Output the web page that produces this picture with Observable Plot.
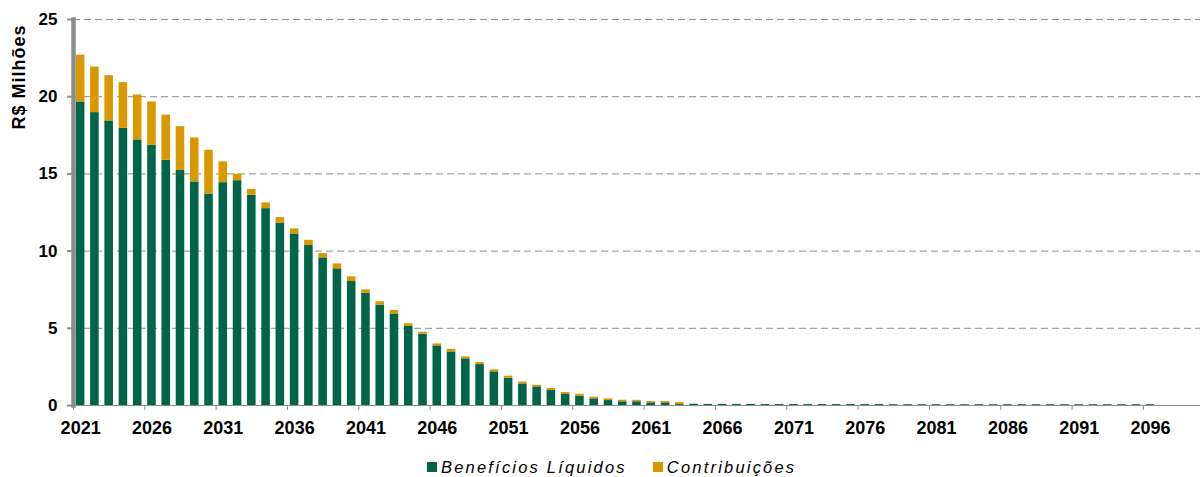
<!DOCTYPE html>
<html><head><meta charset="utf-8">
<script src="https://cdn.jsdelivr.net/npm/d3@7"></script>
<script src="https://cdn.jsdelivr.net/npm/@observablehq/plot@0.6"></script>
<style>
body{margin:0;background:#fff;font-family:"Liberation Sans",Arial,sans-serif;}
#wrap{position:relative;width:1202px;height:477px;overflow:hidden;}
#legend{position:absolute;left:427px;top:458px;display:flex;align-items:center;font-style:italic;font-size:16.5px;letter-spacing:2.2px;line-height:18px;color:#000;white-space:nowrap;}
.item{display:flex;align-items:center;}
.item + .item{margin-left:26px;}
.sw{display:inline-block;width:10px;height:10px;margin-right:4px;}
</style></head><body><div id="wrap"><div id="chart"></div><div id="legend"></div></div>
<script>
// categories
const years = d3.range(2021, 2100);
const xLabelYears = [2021, 2026, 2031, 2036, 2041, 2046, 2051, 2056, 2061, 2066, 2071, 2076, 2081, 2086, 2091, 2096];
const yTicks = [0, 5, 10, 15, 20, 25];
const seriesNames = ["Benefícios Líquidos", "Contribuições"];
const seriesColors = ["#006548", "#D99800"];

// values (R$ milhões), 2021..2099
const beneficios = [
  19.66, 18.97, 18.43, 17.95, 17.20, 16.85, 15.88, 15.22, 14.48, 13.70,
  14.43, 14.56, 13.62, 12.75, 11.80, 11.11, 10.36, 9.56, 8.85, 8.03,
  7.27, 6.50, 5.93, 5.13, 4.62, 3.86, 3.47, 3.02, 2.65, 2.18,
  1.77, 1.40, 1.21, 0.97, 0.71, 0.60, 0.43, 0.32, 0.24, 0.24,
  0.17, 0.17, 0.06, 0.08, 0.07, 0.07, 0.07, 0.07, 0.06, 0.06,
  0.06, 0.06, 0.06, 0.06, 0.06, 0.06, 0.06, 0.05, 0.05, 0.05,
  0.05, 0.05, 0.05, 0.05, 0.05, 0.05, 0.05, 0.05, 0.05, 0.05,
  0.05, 0.05, 0.05, 0.05, 0.05, 0.05, 0, 0, 0
];
const contribuicoes = [
  3.03, 2.95, 2.93, 2.96, 2.91, 2.81, 2.93, 2.84, 2.85, 2.83,
  1.35, 0.42, 0.38, 0.37, 0.37, 0.33, 0.34, 0.28, 0.32, 0.30,
  0.22, 0.22, 0.23, 0.16, 0.12, 0.13, 0.17, 0.13, 0.13, 0.13,
  0.13, 0.12, 0.10, 0.13, 0.13, 0.13, 0.11, 0.11, 0.10, 0.10,
  0.09, 0.09, 0.13, 0, 0, 0, 0, 0, 0, 0,
  0, 0, 0, 0, 0, 0, 0, 0, 0, 0,
  0, 0, 0, 0, 0, 0, 0, 0, 0, 0,
  0, 0, 0, 0, 0, 0, 0, 0, 0
];

const data = years.flatMap((year, i) => [
  {year, series: seriesNames[0], value: beneficios[i]},
  {year, series: seriesNames[1], value: contribuicoes[i]}
]);

const W = 1202, H = 440, ML = 73, MR = 2, MT = 19, MB = 35;
const PI = 0.4, PO = 0.2;
const step = (W - ML - MR) / (years.length - PI + 2 * PO);
const gray = "#8c8c8c";

const chart = Plot.plot({
  width: W, height: H,
  marginLeft: ML, marginRight: MR, marginTop: MT, marginBottom: MB,
  style: {fontFamily: '"Liberation Sans", Arial, sans-serif', background: "#fff", color: "#000"},
  x: {type: "band", domain: years, paddingInner: PI, paddingOuter: PO, round: false, axis: null},
  y: {domain: [0, 25], axis: null},
  color: {domain: seriesNames, range: seriesColors},
  marks: [
    Plot.gridY(yTicks.filter(d => d > 0), {stroke: gray, strokeOpacity: 1, strokeDasharray: "7,4", strokeWidth: 1}),
    Plot.barY(data, {x: "year", y: "value", fill: "series", order: seriesNames}),
    Plot.ruleY([0], {stroke: gray}),
    Plot.axisX(xLabelYears, {tickSize: 5, tickFormat: () => "", dx: -step / 2, stroke: gray, label: null}),
    Plot.axisX(xLabelYears, {tickSize: 0, tickPadding: 16, fontSize: 18, fontWeight: "bold", tickFormat: d => String(d), label: null}),
    Plot.axisY(yTicks, {tickSize: 6, tickPadding: 10, stroke: gray, strokeWidth: 2, fontSize: 17, fontWeight: "bold", label: null}),
    Plot.frame({anchor: "left", stroke: gray, strokeWidth: 4.5}),
    Plot.text(["R$ Milhões"], {frameAnchor: "top-left", rotate: -90, textAnchor: "end", dx: -61, dy: 5, fontSize: 18, fontWeight: "bold"})
  ]
});
d3.select(chart).selectAll('g[aria-label="text"] text').attr("letter-spacing", "1px");
document.getElementById("chart").appendChild(chart);

const legend = d3.select("#legend");
seriesNames.forEach((name, i) => {
  const it = legend.append("div").attr("class", "item");
  it.append("span").attr("class", "sw").style("background", seriesColors[i]);
  it.append("span").text(name);
});
</script>
</body></html>
